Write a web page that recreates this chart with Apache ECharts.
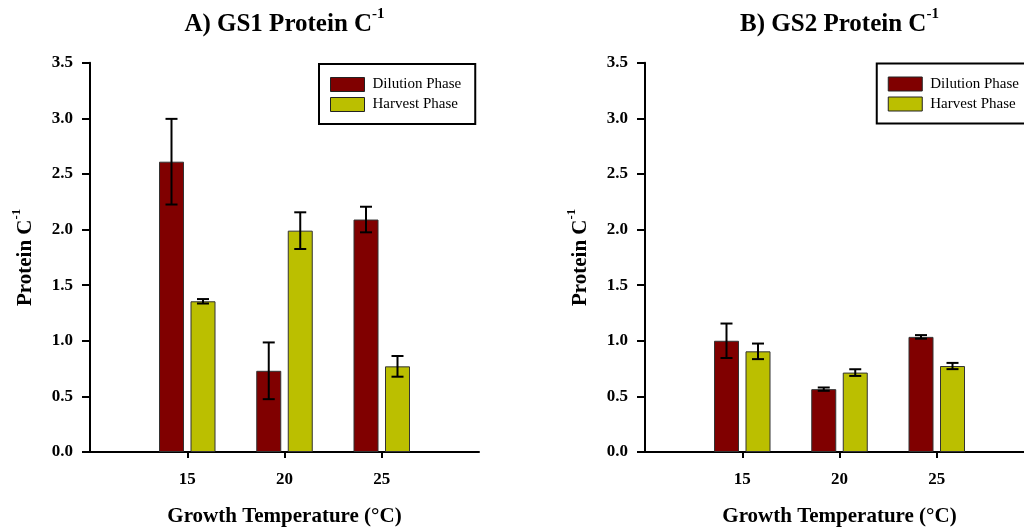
<!DOCTYPE html>
<html><head><meta charset="utf-8">
<script src="https://cdn.jsdelivr.net/npm/echarts@6/dist/echarts.min.js"></script>
<style>html,body{margin:0;padding:0;background:#fff}#c{width:1024px;height:531px}</style>
</head><body><div id="c"></div>
<script>
// ---- data ----
const temps = ['15', '20', '25'];
const seriesNames = ['Dilution Phase', 'Harvest Phase'];
const panelTitles = ['A) GS1 Protein C', 'B) GS2 Protein C'];
const gs1Dilution = [2.61, 0.73, 2.09];
const gs1DilutionErr = [0.385, 0.255, 0.115];
const gs1Harvest = [1.355, 1.99, 0.77];
const gs1HarvestErr = [0.02, 0.165, 0.093];
const gs2Dilution = [1.00, 0.565, 1.035];
const gs2DilutionErr = [0.155, 0.015, 0.016];
const gs2Harvest = [0.905, 0.714, 0.773];
const gs2HarvestErr = [0.07, 0.03, 0.028];

// ---- style ----
const FONT = "'Liberation Serif','Times New Roman',serif";
const C_DIL = '#800000', C_HAR = '#bbbf00';
const BAR_W = 25, GAP = 6.5, OFF = (BAR_W + GAP) / 2, CAP = 6;
const GRID_L = [90, 645], GRID_W = 389, GRID_T = 62.7, GRID_H = 389.3;

const cats = [''].concat(temps, ['']);
const pad = a => [null].concat(a, [null]);
const errData = (vals, errs) => vals.map((v, i) => [i + 1, v, errs[i]]);

function barSeries(name, idx, vals, color) {
  return { type: 'bar', name, xAxisIndex: idx, yAxisIndex: idx, data: pad(vals),
    barWidth: BAR_W, barGap: (GAP / BAR_W * 100) + '%',
    itemStyle: { color, borderColor: '#333', borderWidth: 1 } };
}
function errSeries(name, idx, vals, errs, sign) {
  return { type: 'custom', name, xAxisIndex: idx, yAxisIndex: idx, z: 5, silent: true,
    data: errData(vals, errs),
    renderItem(params, api) {
      const x = api.value(0), v = api.value(1), e = api.value(2);
      const t = api.coord([x, v + e]), b = api.coord([x, v - e]);
      const cx = t[0] + sign * OFF;
      const st = { stroke: '#000', lineWidth: 2 };
      return { type: 'group', children: [
        { type: 'line', shape: { x1: cx, y1: t[1], x2: cx, y2: b[1] }, style: st },
        { type: 'line', shape: { x1: cx - CAP, y1: t[1], x2: cx + CAP, y2: t[1] }, style: st },
        { type: 'line', shape: { x1: cx - CAP, y1: b[1], x2: cx + CAP, y2: b[1] }, style: st }
      ] };
    } };
}
const supRich = (big, small, padTop) => ({
  m: { fontFamily: FONT, fontSize: big, fontWeight: 'bold', color: '#000', fill: '#000', padding: [padTop, 0, 0, 0] },
  s: { fontFamily: FONT, fontSize: small, fontWeight: 'bold', color: '#000', fill: '#000', verticalAlign: 'top' }
});
function xAx(i) {
  return { type: 'category', gridIndex: i, data: cats, boundaryGap: false,
    axisLine: { lineStyle: { color: '#000', width: 2 } },
    axisTick: { length: 6, interval: k => k >= 1 && k <= temps.length, lineStyle: { color: '#000', width: 2 } },
    axisLabel: { interval: 0, margin: 19, fontFamily: FONT, fontSize: 17, fontWeight: 'bold', color: '#000' },
    splitLine: { show: false },
    name: 'Growth Temperature (°C)', nameLocation: 'middle', nameGap: 54,
    nameTextStyle: { fontFamily: FONT, fontSize: 21, fontWeight: 'bold', color: '#000' } };
}
function yAx(i) {
  return { type: 'value', gridIndex: i, min: 0, max: 3.5, interval: 0.5,
    axisLine: { show: true, lineStyle: { color: '#000', width: 2 } },
    axisTick: { show: true, length: 8, lineStyle: { color: '#000', width: 2 } },
    axisLabel: { margin: 17, formatter: v => v.toFixed(1), fontFamily: FONT, fontSize: 17, fontWeight: 'bold', color: '#000' },
    splitLine: { show: false },
    name: '{m|Protein C}{s|-1}', nameLocation: 'middle', nameGap: 54, nameRotate: 90,
    nameTextStyle: { rich: supRich(21, 13, 5) } };
}
function legend(pos) {
  return Object.assign({ orient: 'vertical', data: seriesNames, icon: 'rect',
    itemWidth: 34, itemHeight: 14, itemGap: 5, padding: [13, 14, 12, 11],
    borderColor: '#000', borderWidth: 2, backgroundColor: '#fff', selectedMode: false,
    itemStyle: { borderColor: '#222', borderWidth: 1 },
    textStyle: { fontFamily: FONT, fontSize: 15, color: '#000', padding: [0, 0, 0, 3] } }, pos);
}

const option = {
  animation: false,
  backgroundColor: '#fff',
  grid: GRID_L.map(l => ({ left: l, top: GRID_T, width: GRID_W, height: GRID_H, containLabel: false, outerBoundsMode: 'none' })),
  xAxis: [xAx(0), xAx(1)],
  yAxis: [yAx(0), yAx(1)],
  legend: [legend({ left: 319, top: 64 }), legend({ right: -9, top: 63.5 })],
  graphic: panelTitles.map((t, i) => ({ type: 'text', x: GRID_L[i] + GRID_W / 2, y: 22,
    style: { text: '{m|' + t + '}{s|-1}', align: 'center', verticalAlign: 'middle', rich: supRich(25, 15, 5) } })),
  series: [
    barSeries(seriesNames[0], 0, gs1Dilution, C_DIL),
    barSeries(seriesNames[1], 0, gs1Harvest, C_HAR),
    barSeries(seriesNames[0], 1, gs2Dilution, C_DIL),
    barSeries(seriesNames[1], 1, gs2Harvest, C_HAR),
    errSeries(seriesNames[0], 0, gs1Dilution, gs1DilutionErr, -1),
    errSeries(seriesNames[1], 0, gs1Harvest, gs1HarvestErr, 1),
    errSeries(seriesNames[0], 1, gs2Dilution, gs2DilutionErr, -1),
    errSeries(seriesNames[1], 1, gs2Harvest, gs2HarvestErr, 1)
  ]
};
echarts.init(document.getElementById('c')).setOption(option);
</script></body></html>
